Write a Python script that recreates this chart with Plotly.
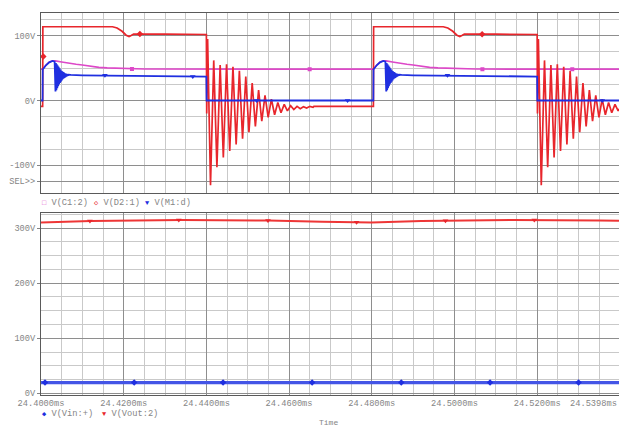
import numpy as np
import plotly.graph_objects as go

# ---------------- data ----------------
T0 = 24.40          # ms, left edge of time axis
T_END = 24.5398     # ms, right edge of time axis
PERIOD_US = 80.0    # switching period, µs
N_PERIODS = 2

# V(D2:1) – one switching period, times in µs from period start
d2_on_t = [0.0, 0.40, 0.45, 17.3, 18.4, 19.6, 20.6, 21.3, 21.8, 22.4, 30.0, 40.0]
d2_on_v = [-9, -9, 114, 114, 112, 107, 101, 99, 100.5, 102.8, 102.5, 102]
# ringing after turn-off (µs after the 40 µs turn-off instant)
ring_dt = [0.08, 0.30, 1.00, 1.78, 2.55, 3.33, 4.10, 4.88, 5.65, 6.43, 7.20, 7.98,
           8.75, 9.53, 10.30, 11.08, 11.85, 12.63, 13.40, 14.18, 14.95, 15.73, 16.50,
           17.28, 18.05, 18.83, 19.60, 20.38, 21.15, 21.93, 22.70, 23.48, 24.25,
           25.03, 25.80]
ring_v = [-20, 95, -131, 62, -103, 55, -88, 56, -78, 52, -68, 46,
          -59, 37, -49, 27, -40, 16, -32, 8, -26, 2, -22,
          -3, -19, -6, -16, -8, -14, -9, -12.5, -9.5, -11.5,
          -9, -10.5]
d2_tail_t = [66.0, 80.0]
d2_tail_v = [-9, -9]

# V(M1:d) – one period
m1_rise_t = [0.0, 0.38, 0.42, 1.2, 2.0, 2.8, 3.3]
m1_rise_v = [0, 0, 48, 54.5, 59, 61.3, 60]
m1_burst_t = [3.50, 3.61, 3.72, 3.83, 3.94, 4.05, 4.16, 4.27, 4.38, 4.49, 4.60, 4.71,
              4.82, 4.93, 5.04, 5.15, 5.26, 5.37, 5.48, 5.59, 5.70, 5.81, 5.92, 6.03,
              6.14, 6.25, 6.36, 6.47, 6.58, 6.69]
m1_burst_v = [14, 58, 16, 56, 19, 54, 22, 52, 25, 50, 27, 48,
              29, 46, 31, 45, 33, 44, 34, 43, 35, 42, 36, 41.5,
              37, 41, 38, 40.5, 38.5, 40]
m1_rest_t = [7.2, 10.0, 20.0, 30.0, 40.0, 40.05, 80.0]
m1_rest_v = [39.5, 39, 38, 37.3, 37, 0, 0]

# V(C1:2) – one period
c1_t = [0.0, 0.40, 1.2, 2.0, 2.8, 3.5, 5.0, 6.7, 8.5, 10.0, 12.0, 14.0, 16.0, 18.0,
        21.0, 25.0, 80.0]
c1_v = [48.5, 48.5, 55, 59.5, 61.3, 61.2, 59.5, 57.5, 56, 54.9, 53, 51.3, 50.4, 49.8,
        49, 48.6, 48.5]

# lower plot
vout_t = [24.400, 24.412, 24.434, 24.455, 24.468, 24.480, 24.492, 24.514, 24.535, 24.5398]
vout_v = [310.5, 313.2, 315.0, 313.8, 311.5, 310.5, 313.2, 315.0, 313.8, 313.3]
vin_t = [24.400, 24.5398]
vin_v = [19.5, 19.5]

# trace symbols (PSpice markers)
c1_mk_t = [24.42200, 24.46498, 24.50676, 24.52850]
c1_mk_v = [48.8, 48.5, 48.5, 48.5]
d2_mk_t = [24.40056, 24.42391, 24.50669]
d2_mk_v = [68, 102.8, 102.6]
m1_mk_t = [24.41546, 24.43671, 24.45217, 24.47415, 24.49831, 24.53575]
m1_mk_v = [39.0, 37.2, 0, 0, 39.0, 0]
vin_mk_t = [24.40097, 24.42254, 24.44403, 24.46558, 24.48713, 24.50862, 24.53002]
vout_mk_t = [24.41184, 24.43333, 24.45490, 24.47633, 24.49783, 24.51932]

top_yticks = [100, 0, -100, -125]
top_yticktext = ["100V", "0V", "-100V", "SEL>>"]
bot_yticks = [300, 200, 100, 0]
bot_yticktext = ["300V", "200V", "100V", "0V"]

# ---------------- build periodic traces ----------------
def periodic(rel_t, rel_v):
    ts, vs = [], []
    for k in range(N_PERIODS):
        ts += [T0 + (k * PERIOD_US + t) / 1000.0 for t in rel_t]
        vs += list(rel_v)
    return ts, vs

d2_rel_t = d2_on_t + [40.0 + d for d in ring_dt] + d2_tail_t
d2_rel_v = d2_on_v + ring_v + d2_tail_v
m1_rel_t = m1_rise_t + m1_burst_t + m1_rest_t
m1_rel_v = m1_rise_v + m1_burst_v + m1_rest_v

d2_x, d2_y = periodic(d2_rel_t, d2_rel_v)
m1_x, m1_y = periodic(m1_rel_t, m1_rel_v)
c1_x, c1_y = periodic(c1_t, c1_v)

RED = "#e8262c"
BLUE = "#1f2fe0"
MAG = "#dd48c8"
BLUE2 = "#4455e6"
RED2 = "#ee3636"
MAJ = "#8e8e8e"
MIN = "#c9c9c9"
TXT = "#858585"
FONT = "Liberation Mono, DejaVu Sans Mono, monospace"
FS = 8.7

fig = go.Figure()
fig.add_trace(go.Scatter(x=c1_x, y=c1_y, mode="lines", line=dict(color=MAG, width=1.6),
                         xaxis="x", yaxis="y"))
fig.add_trace(go.Scatter(x=d2_x, y=d2_y, mode="lines", line=dict(color=RED, width=1.7),
                         xaxis="x", yaxis="y"))
fig.add_trace(go.Scatter(x=m1_x, y=m1_y, mode="lines", line=dict(color=BLUE, width=1.8),
                         xaxis="x", yaxis="y"))
fig.add_trace(go.Scatter(x=c1_mk_t, y=c1_mk_v, mode="markers",
                         marker=dict(symbol="square", size=4, color=MAG), xaxis="x", yaxis="y"))
fig.add_trace(go.Scatter(x=d2_mk_t, y=d2_mk_v, mode="markers",
                         marker=dict(symbol="diamond", size=5, color=RED), xaxis="x", yaxis="y"))
fig.add_trace(go.Scatter(x=m1_mk_t, y=m1_mk_v, mode="markers",
                         marker=dict(symbol="triangle-down", size=5, color=BLUE), xaxis="x", yaxis="y"))

fig.add_trace(go.Scatter(x=vin_t, y=vin_v, mode="lines", line=dict(color=BLUE2, width=3.2),
                         xaxis="x2", yaxis="y2"))
fig.add_trace(go.Scatter(x=vout_t, y=vout_v, mode="lines", line=dict(color=RED2, width=2),
                         xaxis="x2", yaxis="y2"))
fig.add_trace(go.Scatter(x=vin_mk_t, y=np.interp(vin_mk_t, vin_t, vin_v), mode="markers",
                         marker=dict(symbol="diamond", size=5, color=BLUE), xaxis="x2", yaxis="y2"))
fig.add_trace(go.Scatter(x=vout_mk_t, y=np.interp(vout_mk_t, vout_t, vout_v), mode="markers",
                         marker=dict(symbol="triangle-down", size=5, color=RED), xaxis="x2", yaxis="y2"))

W, H = 619, 427
xdom = [41 / W, 1.0]
top_dom = [1 - 193.3 / H, 1 - 13.3 / H]
bot_dom = [1 - 395.0 / H, 1 - 213.3 / H]

tickfont = dict(family=FONT, size=FS, color=TXT)
common_x = dict(domain=xdom, range=[T0, T_END], tickmode="linear", tick0=T0, dtick=0.02,
                showgrid=True, gridcolor=MAJ, gridwidth=1, zeroline=False, automargin=False,
                minor=dict(tickmode="linear", tick0=T0, dtick=0.005, showgrid=True,
                           gridcolor=MIN, gridwidth=1),
                showline=True, linecolor="#5a5a5a", linewidth=1, mirror=True,
                ticks="", tickfont=tickfont)
common_y = dict(showgrid=True, gridcolor=MAJ, gridwidth=1, zeroline=False, automargin=False,
                showline=True, linecolor="#5a5a5a", linewidth=1, mirror=True,
                ticks="outside", ticklen=3, tickcolor=TXT, tickfont=tickfont,
                tickmode="array",
                minor=dict(tickmode="linear", tick0=0, dtick=25, showgrid=True,
                           gridcolor=MIN, gridwidth=1))

fig.update_layout(
    width=W, height=H, margin=dict(l=0, r=0, t=0, b=0, autoexpand=False),
    paper_bgcolor="white", plot_bgcolor="white", showlegend=False,
    xaxis=dict(common_x, anchor="y", showticklabels=False),
    yaxis=dict(common_y, domain=top_dom, range=[-143.4, 134.8], anchor="x",
               tickvals=top_yticks, ticktext=top_yticktext),
    xaxis2=dict(common_x, anchor="y2", showticklabels=True, tickformat=".4f",
                ticksuffix="ms", ticklabelposition="outside"),
    yaxis2=dict(common_y, domain=bot_dom, range=[-3, 327], anchor="x2",
                tickvals=bot_yticks, ticktext=bot_yticktext),
)

def px(xp, yp):
    return xp / W, 1 - yp / H

def legend_item(xp, yp, sym, col, label):
    x, y = px(xp, yp)
    fig.add_annotation(x=x, y=y, xref="paper", yref="paper", xanchor="left", yanchor="middle",
                       showarrow=False,
                       text=f'<span style="color:{col};font-size:7px">{sym}</span> {label}',
                       font=dict(family=FONT, size=FS, color=TXT))

legend_item(40, 202.5, "□", MAG, "V(C1:2)")
legend_item(91.5, 202.5, "◇", RED, "V(D2:1)")
legend_item(143, 202.5, "▼", BLUE, "V(M1:d)")
legend_item(40, 413.8, "◆", BLUE, "V(Vin:+)")
legend_item(99.5, 413.8, "▼", RED, "V(Vout:2)")

x, y = px(619, 403.5)
fig.add_annotation(x=x, y=y, xref="paper", yref="paper", xanchor="right", yanchor="middle",
                   showarrow=False, text=f"{T_END:.4f}ms", font=dict(family=FONT, size=FS, color=TXT))
x, y = px(328.7, 422)
fig.add_annotation(x=x, y=y, xref="paper", yref="paper", xanchor="center", yanchor="middle",
                   showarrow=False, text="Time", font=dict(family=FONT, size=8, color=TXT))

fig.write_html("out.html", config={"displayModeBar": False},
               post_script="document.body.style.margin='0';document.body.style.overflow='hidden';")
